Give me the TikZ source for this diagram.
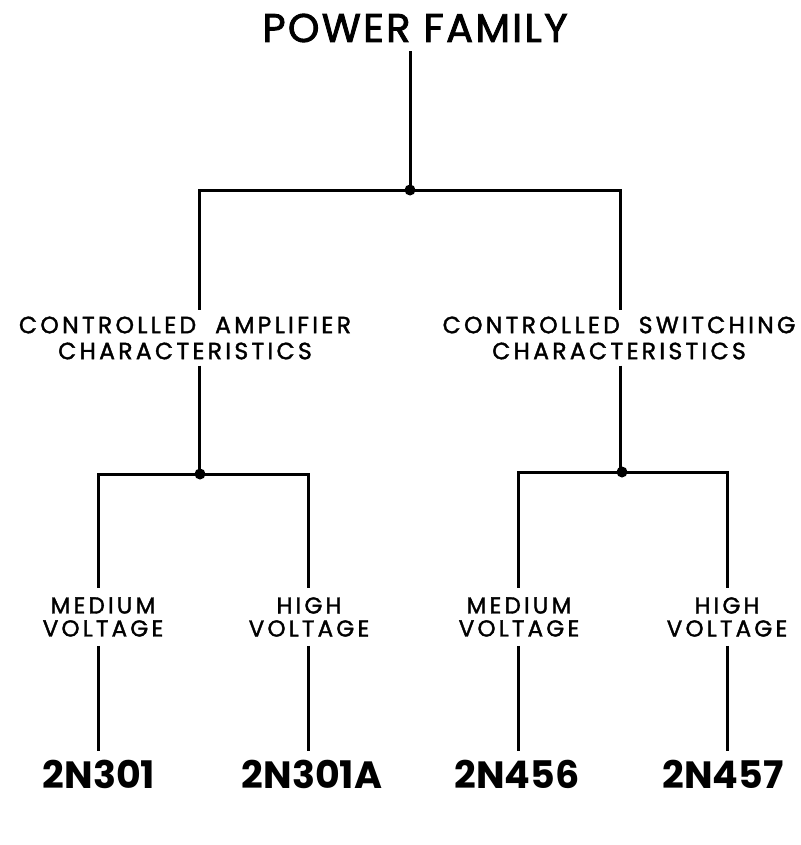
\documentclass[tikz,border=0pt]{standalone}
\usepackage{fontspec}
\setmainfont{Poppins}
\newfontfamily\labfont{Poppins}[FakeBold=1.6,LetterSpace=14]
\newfontfamily\titlefont{Poppins}[FakeBold=2.2,LetterSpace=6]
\begin{document}
\begin{tikzpicture}[x=1pt,y=-1pt,
  conn/.style={line width=3pt},
  jdot/.style={circle,fill=black,inner sep=0pt,minimum size=11pt},
  titlebox/.style={inner xsep=3pt,inner ysep=9pt,font=\titlefont\fontsize{40}{44}\selectfont},
  lab/.style={inner xsep=3pt,inner ysep=6pt,align=center,font=\labfont\fontsize{23.5}{26}\selectfont},
  sublab/.style={inner xsep=3pt,inner ysep=9pt,align=center,font=\labfont\fontsize{23}{23}\selectfont},
  part/.style={inner xsep=3pt,inner ysep=9pt,font=\fontsize{38}{40}\selectfont\bfseries}]
\useasboundingbox (0,0) rectangle (800,845);
\node[titlebox] (pf) at (415,28) {POWER FAMILY};
\node[lab] (ca) at (185,338) {CONTROLLED\hspace{0.4em} AMPLIFIER\\CHARACTERISTICS};
\node[lab] (cs) at (619,338) {CONTROLLED\hspace{0.4em} SWITCHING\\CHARACTERISTICS};
\node[sublab] (m1) at (103,617) {MEDIUM\\VOLTAGE};
\node[sublab] (h1) at (309,617) {HIGH\\VOLTAGE};
\node[sublab] (m2) at (519,617) {MEDIUM\\VOLTAGE};
\node[sublab] (h2) at (727,617) {HIGH\\VOLTAGE};
\node[part] (p1) at (99,774) {2N301};
\node[part] (p2) at (312,774) {2N301A};
\node[part] (p3) at (517,774) {2N456};
\node[part] (p4) at (723,774) {2N457};
\coordinate (j0) at (410,190);
\coordinate (j1) at (200,474);
\coordinate (j2) at (622,472);
\coordinate (xa) at (199,0);
\coordinate (xb) at (620,0);
\coordinate (x1) at (98,0);
\coordinate (x2) at (308,0);
\coordinate (x3) at (518,0);
\coordinate (x4) at (727,0);
% top level
\draw[conn] (pf.south -| j0) -- (j0);
\draw[conn] (j0) -| (ca.north -| xa);
\draw[conn] (j0) -| (cs.north -| xb);
\draw[conn] (ca.south -| xa) -- (j1 -| xa) -- (j1);
\draw[conn] (cs.south -| xb) -- (j2 -| xb) -- (j2);
% second level
\draw[conn] (j1) -| (m1.north -| x1);
\draw[conn] (j1) -| (h1.north -| x2);
\draw[conn] (j2) -| (m2.north -| x3);
\draw[conn] (j2) -| (h2.north -| x4);
\draw[conn] (m1.south -| x1) -- (p1.north -| x1);
\draw[conn] (h1.south -| x2) -- (p2.north -| x2);
\draw[conn] (m2.south -| x3) -- (p3.north -| x3);
\draw[conn] (h2.south -| x4) -- (p4.north -| x4);
\node[jdot] (d0) at (j0) {};
\node[jdot] (d1) at (j1) {};
\node[jdot] (d2) at (j2) {};
\end{tikzpicture}
\end{document}
